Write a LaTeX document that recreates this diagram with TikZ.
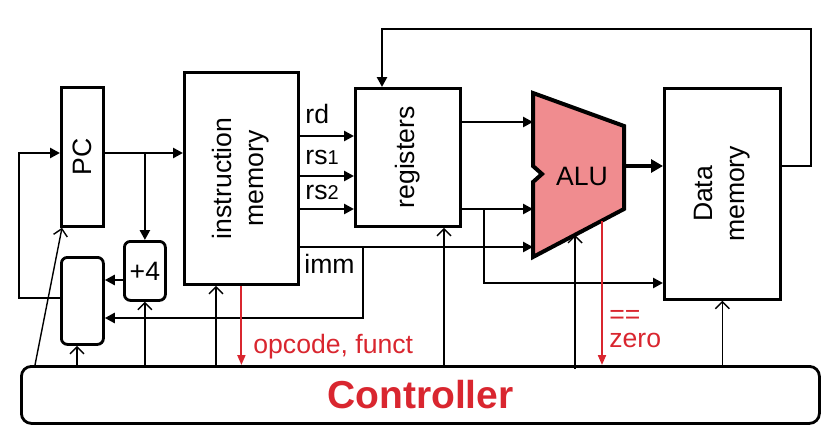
\documentclass[tikz,border=0pt]{standalone}
\usepackage{fontspec}
\setmainfont{Liberation Sans}
\usetikzlibrary{arrows.meta, positioning, calc}
\definecolor{ctrlred}{HTML}{D9262F}
\definecolor{alupink}{HTML}{F08C8F}
\tikzset{
  block/.style={
    rectangle, anchor=north west,
    draw, line width=1.4pt, inner sep=0pt, align=center,
    font=\fontsize{13.3}{16}\selectfont,
  },
  smallblock/.style={block, rounded corners=3pt},
  ctrlbox/.style={
    rectangle, anchor=north west, rounded corners=5pt,
    draw, line width=1.4pt, inner sep=0pt,
    text=ctrlred, font=\fontsize{19.5}{22}\selectfont\bfseries,
  },
  alushape/.style={draw, line width=2pt, fill=alupink, line join=miter},
  lbl/.style={inner sep=0pt, font=\fontsize{13.3}{16}\selectfont},
  bus/.style={-{Triangle[length=5pt,width=5pt]}, line width=1.4pt},
  widebus/.style={-{Triangle[length=6pt,width=6.5pt]}, line width=2pt},
  ctrl/.style={-{Straight Barb[length=3.5pt,width=7pt]}, line width=0.7pt},
  flag/.style={-{Triangle[length=5pt,width=4pt]}, line width=1pt, draw=ctrlred},
}

\begin{document}
\begin{tikzpicture}[x=0.5pt, y=-0.5pt]
  \useasboundingbox (0,0) rectangle (840,434);

  % blocks
  \node[block, minimum width=21pt, minimum height=69.5pt] (pc) at (60,86) {\rotatebox{90}{PC}};
  \node[block, minimum width=57pt, minimum height=106pt] (imem) at (183,71)
    {\rotatebox{90}{\begin{tabular}{@{}c@{}}instruction\\memory\end{tabular}}};
  \node[block, minimum width=52.5pt, minimum height=69pt] (regs) at (354,87) {\rotatebox{90}{registers}};
  \node[block, minimum width=58pt, minimum height=105.5pt] (dmem) at (663,87)
    {\rotatebox{90}{\begin{tabular}{@{}c@{}}Data\\memory\end{tabular}}};
  \node[smallblock, minimum width=20.5pt, minimum height=29.5pt] (plus4) at (123,240) {+4};
  \node[smallblock, minimum width=21pt, minimum height=43.5pt] (mux) at (60,256) {};
  \node[ctrlbox, minimum width=399pt, minimum height=28.5pt] (ctrl) at (20,365) {Controller};

  % ALU
  \draw[alushape] (533,93) -- (624,126) -- (624,209) -- (533,257) -- (533,182)
    -- (542,174) -- (533,166) -- cycle;
  \node[lbl] (alu) at (582,176) {ALU};
  \coordinate (aluA) at (533,122);
  \coordinate (aluB) at (533,209);
  \coordinate (aluC) at (533,247);
  \coordinate (aluout) at (624,166);
  \coordinate (aluzero) at (602,221);
  \coordinate (alubot) at (575,235);

  % fetch path
  \draw[bus] (pc.east |- 0,153) -- (imem.west |- 0,153);
  \draw[bus] (plus4.north |- 0,153) -- (plus4.north);
  \draw[bus] (plus4.west |- 0,280) -- (mux.east |- 0,280);
  \draw[bus] (mux.west |- 0,298) -| (19,153) -- (pc.west |- 0,153);

  % instruction fields
  \draw[bus] (imem.east |- 0,136) -- (regs.west |- 0,136);
  \draw[bus] (imem.east |- 0,176) -- (regs.west |- 0,176);
  \draw[bus] (imem.east |- 0,209) -- (regs.west |- 0,209);
  \node[lbl, anchor=base west] (rd) at (305,123) {rd};
  \node[lbl, anchor=base west] (rsa) at (305,164) {rs{\fontsize{10}{12}\selectfont 1}};
  \node[lbl, anchor=base west] (rsb) at (305,199) {rs{\fontsize{10}{12}\selectfont 2}};
  \draw[bus] (imem.east |- aluC) -- (aluC);
  \draw[bus] (363,247) |- (mux.east |- 0,318);
  \node[lbl, anchor=base west] (imm) at (304,273) {imm};

  % register outputs
  \draw[bus] (regs.east |- aluA) -- (aluA);
  \draw[bus] (regs.east |- aluB) -- (aluB);
  \draw[bus] (484,209) |- (dmem.west |- 0,283);

  % memory
  \draw[widebus] (aluout) -- (dmem.west |- aluout);
  \draw[bus] (dmem.east |- aluout) -| (811,29) -| (regs.north -| 382,0);

  % control signals
  \draw[ctrl] (ctrl.north -| 35,0) -- (pc.south -| 62,0);
  \draw[ctrl] (ctrl.north -| 77,0) -- (mux.south -| 77,0);
  \draw[ctrl] (ctrl.north -| plus4.south) -- (plus4.south);
  \draw[ctrl] (ctrl.north -| 216,0) -- (imem.south -| 216,0);
  \draw[ctrl] (ctrl.north -| 444,0) -- (regs.south -| 444,0);
  \draw[ctrl] (575,369) -- (alubot);
  \draw[ctrl] (ctrl.north -| dmem.south) -- (dmem.south);

  % to controller
  \draw[flag] (imem.south) -- (imem.south |- ctrl.north);
  \node[lbl, anchor=base west, text=ctrlred] (opc) at (253,353) {opcode, funct};
  \draw[flag] (aluzero) -- (aluzero |- ctrl.north);
  \node[lbl, anchor=base west, text=ctrlred, align=left,
        font=\fontsize{13.3}{12}\selectfont] (zero) at (609,347) {==\\zero};
\end{tikzpicture}
\end{document}
